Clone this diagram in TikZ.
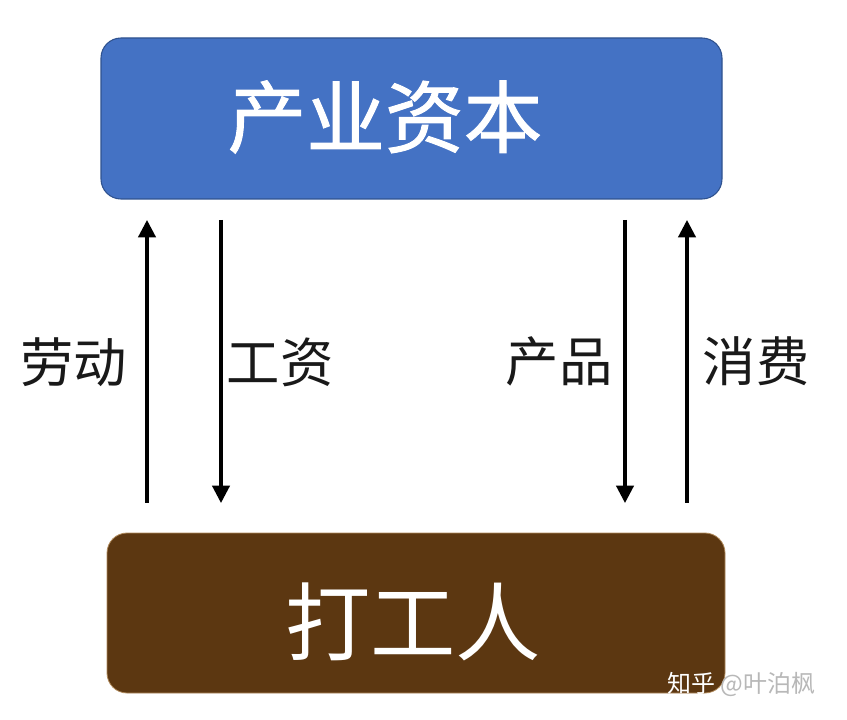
\documentclass[tikz,border=0pt]{standalone}
\usepackage{fontspec}
\setmainfont{Noto Sans CJK SC}
\usetikzlibrary{arrows.meta}
\definecolor{capblue}{HTML}{4472C4}
\definecolor{capedge}{HTML}{2F528F}
\definecolor{workbrown}{HTML}{5C3711}
\definecolor{workedge}{HTML}{B08A5C}
\tikzset{
  box/.style={rounded corners=15pt, inner sep=0pt},
  flow/.style={line width=2.3pt, -{Triangle[length=13pt,width=13pt]}},
  lbl/.style={inner sep=0pt, font=\fontsize{40}{48}\selectfont, text=black!90},
}
\begin{document}
\begin{tikzpicture}[x=0.75pt,y=-0.75pt]
\useasboundingbox (0,0) rectangle (847,720);
\fill[white] (0,0) rectangle (847,720);
% boxes
\node[box, fill=capblue, draw=capedge, line width=0.8pt, minimum width=465.75pt, minimum height=120.75pt] (cap) at (411.5,118.5) {};
\node[box, fill=workbrown, draw=workedge, line width=0.6pt, minimum width=463.5pt, minimum height=120pt] (work) at (416,613) {};
\node[inner sep=0pt, text=white, font=\fontsize{59}{66}\selectfont\addfontfeatures{FakeBold=1.2}] (captext) at (385,117) {产业资本};
\node[inner sep=0pt, text=white, font=\fontsize{64}{72}\selectfont] (worktext) at (413,622) {打工人};
% arrow end points
\coordinate (a1b) at (147,503); \coordinate (a1t) at (147,220);
\coordinate (a2t) at (221,220); \coordinate (a2b) at (221,503);
\coordinate (a3t) at (625,220); \coordinate (a3b) at (625,503);
\coordinate (a4b) at (687,503); \coordinate (a4t) at (687,220);
\draw[flow] (a1b) -- (a1t);
\draw[flow] (a2t) -- (a2b);
\draw[flow] (a3t) -- (a3b);
\draw[flow] (a4b) -- (a4t);
% labels
\node[lbl] (labor) at (74,362) {劳动};
\node[lbl] (wage) at (280,362) {工资};
\node[lbl] (prod) at (559,361) {产品};
\node[lbl] (cons) at (756,361) {消费};
% watermark
\node[inner sep=0pt, font=\fontsize{18}{22}\selectfont, anchor=west] (mark) at (667,684) {\textcolor{white}{知乎} \textcolor{black!28}{@叶泊枫}};
\end{tikzpicture}
\end{document}
